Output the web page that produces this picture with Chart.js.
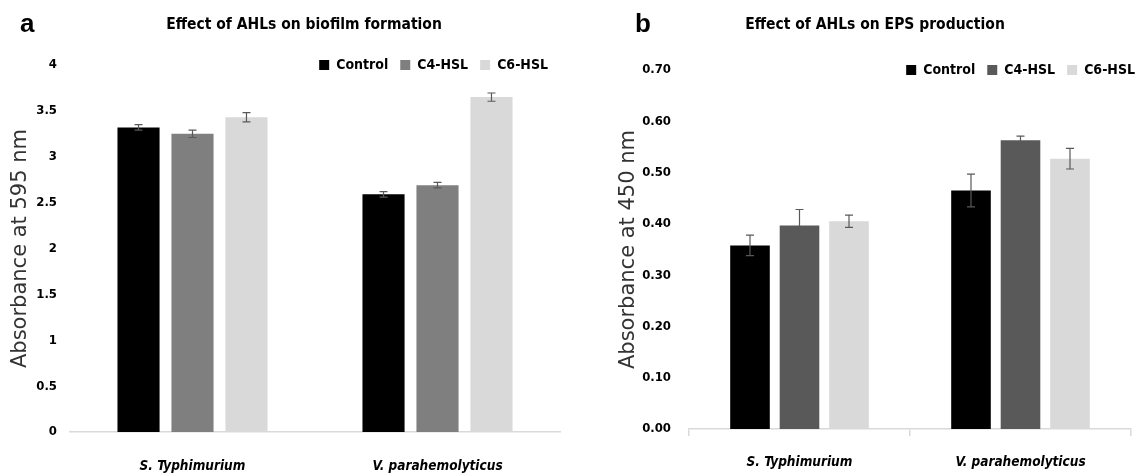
<!DOCTYPE HTML>
<html>

<head>
  <title>Effect of AHLs</title>
  <meta charset="utf-8">
  <script src="https://cdn.jsdelivr.net/npm/chart.js"></script>
  <style>
    body { margin: 0; width: 1142px; height: 475px; overflow: hidden; background: #fff; position: relative; }
    .box { position: absolute; top: 0; height: 475px; }
    .panel { position: absolute; top: 10px; font: bold 26px 'Liberation Sans', Arial, sans-serif; line-height: 26px; }
    .head { position: absolute; top: 14px; font: bold 15.5px 'DejaVu Sans Condensed', 'DejaVu Sans', sans-serif; line-height: 20px; transform: translateX(-50%); white-space: nowrap; }
  </style>
</head>

<body>
  <div class="box" style="left:0px;width:570px"><canvas id="biofilmChart"></canvas></div>
  <div class="box" style="left:600px;width:547px"><canvas id="epsChart"></canvas></div>

  <div class="panel" style="left:20px">a</div>
  <div class="head" style="left:304px">Effect of AHLs on biofilm formation</div>
  <div class="panel" style="left:635px">b</div>
  <div class="head" style="left:875px">Effect of AHLs on EPS production</div>

  <script type="text/javascript">
    var xvarstrain = ["S. Typhimurium", "V. parahemolyticus"];
    var seriesNames = ["Control", "C4-HSL", "C6-HSL"];

    // biofilm, absorbance at 595 nm
    var yvarbioControl = [3.32, 2.59];
    var yvarbioC4 = [3.25, 2.69];
    var yvarbioC6 = [3.43, 3.65];
    var errbioControl = [0.03, 0.03];
    var errbioC4 = [0.04, 0.03];
    var errbioC6 = [0.05, 0.045];

    // EPS, absorbance at 450 nm
    var yvarepsControl = [0.358, 0.465];
    var yvarepsC4 = [0.397, 0.563];
    var yvarepsC6 = [0.405, 0.527];
    var erepsControl = [0.02, 0.032];
    var erepsC4 = [0.031, 0.008];
    var erepsC6 = [0.012, 0.02];

    var FONT_N = "'DejaVu Sans Condensed', 'DejaVu Sans', sans-serif";

    // error bars, drawn from the y scale of each chart
    const errorBars = {
      id: 'errorBars',
      afterDatasetsDraw(chart) {
        const ctx = chart.ctx;
        const y = chart.scales.y;
        ctx.save();
        ctx.strokeStyle = '#595959';
        ctx.lineWidth = 1.2;
        chart.data.datasets.forEach((ds, i) => {
          chart.getDatasetMeta(i).data.forEach((bar, j) => {
            const top = y.getPixelForValue(ds.data[j] + ds.errors[j]);
            const bot = y.getPixelForValue(ds.data[j] - ds.errors[j]);
            ctx.beginPath();
            ctx.moveTo(bar.x, top); ctx.lineTo(bar.x, bot);
            ctx.moveTo(bar.x - 4, top); ctx.lineTo(bar.x + 4, top);
            ctx.moveTo(bar.x - 4, bot); ctx.lineTo(bar.x + 4, bot);
            ctx.stroke();
          });
        });
        ctx.restore();
      }
    };

    // legend sits on the top edge of the plot area (like the Excel original)
    const legendOnEdge = {
      id: 'legendOnEdge',
      beforeInit(chart) {
        const fit = chart.legend.fit;
        chart.legend.fit = function () {
          fit.call(this);
          this.height = this.options.labels.padding + this.options.labels.font.size / 2;
        };
      },
      afterLayout(chart) {
        // legend clips to its box, give the labels room again
        chart.legend.bottom = chart.legend.top + 40;
      }
    };

    function bars(label, data, errors, color, cp, bp) {
      return {
        label: label, data: data, errors: errors,
        backgroundColor: color, borderWidth: 0,
        categoryPercentage: cp, barPercentage: bp,
      };
    }

    var legendLabels = { boxWidth: 10, boxHeight: 10, padding: 12, color: '#000', font: { family: FONT_N, size: 14, weight: 'bold' } };
    var tickFont = { family: FONT_N, size: 13, weight: 'bold' };
    var catFont = { family: FONT_N, size: 13.5, weight: 'bold', style: 'italic' };
    var axisTitleFont = { family: 'DejaVu Sans', size: 21 };

    var Chartbio = new Chart(document.getElementById('biofilmChart'), {
      type: 'bar',
      plugins: [errorBars, legendOnEdge],
      data: {
        labels: xvarstrain,
        datasets: [
          bars(seriesNames[0], yvarbioControl, errbioControl, '#000000', 0.661, 0.78),
          bars(seriesNames[1], yvarbioC4, errbioC4, '#7f7f7f', 0.661, 0.78),
          bars(seriesNames[2], yvarbioC6, errbioC6, '#d9d9d9', 0.661, 0.78),
        ],
      },
      options: {
        responsive: true,
        maintainAspectRatio: false,
        animation: false,
        layout: { padding: { top: 46, left: 0, right: 10, bottom: 0 } },
        plugins: {
          tooltip: { enabled: false },
          legend: { position: 'top', align: 'end', labels: legendLabels }
        },
        scales: {
          x: {
            grid: { display: false, drawTicks: false },
            border: { color: '#d9d9d9', width: 1.5 },
            ticks: { padding: 26, color: '#000', font: catFont },
            afterFit: (s) => { s.height = 43; }
          },
          y: {
            min: 0, max: 4,
            ticks: { stepSize: 0.5, padding: 13, color: '#000', font: tickFont, callback: (v) => String(v) },
            grid: { display: false, drawTicks: false },
            border: { display: false },
            title: { display: true, text: 'Absorbance at 595 nm', color: '#333', padding: { top: 8, bottom: 0 }, font: axisTitleFont },
            afterFit: (s) => { s.width = 70; }
          }
        }
      }
    });

    var Charteps = new Chart(document.getElementById('epsChart'), {
      type: 'bar',
      plugins: [errorBars, legendOnEdge],
      data: {
        labels: xvarstrain,
        datasets: [
          bars(seriesNames[0], yvarepsControl, erepsControl, '#000000', 0.672, 0.80),
          bars(seriesNames[1], yvarepsC4, erepsC4, '#595959', 0.672, 0.80),
          bars(seriesNames[2], yvarepsC6, erepsC6, '#d9d9d9', 0.672, 0.80),
        ],
      },
      options: {
        responsive: true,
        maintainAspectRatio: false,
        animation: false,
        layout: { padding: { top: 51, left: 0, right: 0, bottom: 0 } },
        plugins: {
          tooltip: { enabled: false },
          legend: { position: 'top', align: 'end', labels: legendLabels }
        },
        scales: {
          x: {
            grid: { display: true, drawOnChartArea: false, drawTicks: true, tickLength: 7, offset: true, color: '#d9d9d9', lineWidth: 1.5 },
            border: { color: '#d9d9d9', width: 1.5 },
            ticks: { padding: 18, color: '#000', font: catFont },
            afterFit: (s) => { s.height = 46; }
          },
          y: {
            min: 0, max: 0.7,
            ticks: { stepSize: 0.1, padding: 18, color: '#000', font: tickFont, callback: (v) => v.toFixed(2) },
            grid: { display: false, drawTicks: false },
            border: { display: false },
            title: { display: true, text: 'Absorbance at 450 nm', color: '#333', padding: { top: 16, bottom: 0 }, font: axisTitleFont },
            afterFit: (s) => { s.width = 89; }
          },
          yRight: {
            axis: 'y', position: 'right', display: true,
            grid: { display: false, drawTicks: false },
            border: { display: false },
            ticks: { display: false },
            afterFit: (s) => { s.width = 16; }
          }
        }
      }
    });
  </script>
</body>

</html>
